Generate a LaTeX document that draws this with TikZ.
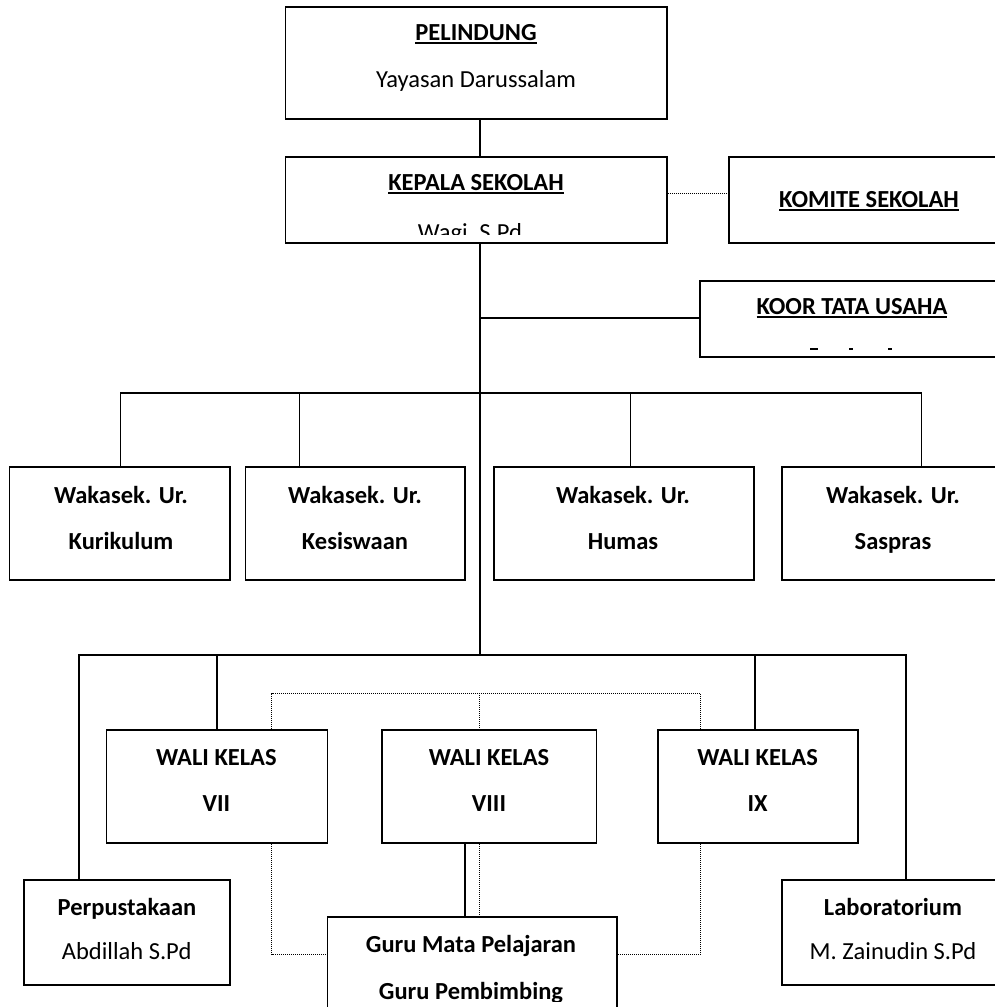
\documentclass[tikz,border=0pt]{standalone}
\usepackage{fontspec}
\setmainfont{Carlito}
\newcommand\fs{\fontsize{24.5}{29}\selectfont}
\newcommand\myul[1]{\setbox0\hbox{#1}\rlap{\rule[-3.5pt]{\wd0}{1.8pt}}\box0}
\begin{document}
\begin{tikzpicture}[x=1pt,y=-1pt,
  bx/.style={draw, line width=1.6pt, inner sep=0pt},
  tx/.style={inner sep=0pt, anchor=base, font=\fs},
  tb/.style={inner sep=0pt, anchor=base, font=\fs\bfseries},
  ln/.style={line width=1.4pt},
  dl/.style={line width=1pt, dash pattern=on 1pt off 1pt},
  mk/.style={line width=1.5pt}]
\clip (0,0) rectangle (995,1007);
\fill[white] (0,0) rectangle (995,1007);
% boxes
\node[bx, minimum width=381.5pt, minimum height=112pt] (pel) at (476.25,63) {};
\node[bx, minimum width=381.5pt, minimum height=86pt] (kep) at (476.25,200) {};
\node[bx, minimum width=371pt, minimum height=86pt] (kom) at (914.5,200) {};
\node[bx, minimum width=400pt, minimum height=76pt] (koor) at (900,319) {};
\node[bx, minimum width=220.5pt, minimum height=113pt] (wk1) at (119.75,523.5) {};
\node[bx, minimum width=219.4pt, minimum height=113pt] (wk2) at (355.3,523.5) {};
\node[bx, minimum width=260.3pt, minimum height=113pt] (wk3) at (623.85,523.5) {};
\node[bx, minimum width=318pt, minimum height=113pt] (wk4) at (941,523.5) {};
\node[bx, minimum width=220.8pt, minimum height=113pt] (w7) at (217,786.5) {};
\node[bx, minimum width=214.4pt, minimum height=113pt] (w8) at (489.2,786.5) {};
\node[bx, minimum width=200pt, minimum height=113pt] (w9) at (758,786.5) {};
\node[bx, minimum width=206pt, minimum height=105pt] (perp) at (127,932.5) {};
\node[bx, minimum width=318pt, minimum height=105pt] (lab) at (941,932.5) {};
\node[bx, minimum width=289.4pt, minimum height=183pt] (guru) at (472.1,1008.5) {};
% helper coordinates
\coordinate (tr) at (480,0);
\coordinate (kd) at (0,193);
\coordinate (kl) at (0,318);
\coordinate (b1) at (0,393);
\coordinate (b2) at (0,655);
\coordinate (d1) at (120.6,0);
\coordinate (d2) at (299.5,0);
\coordinate (d3) at (630.7,0);
\coordinate (d4) at (921.3,0);
\coordinate (e1) at (79,0);
\coordinate (e2) at (217,0);
\coordinate (e3) at (755,0);
\coordinate (e4) at (906,0);
\coordinate (f1) at (271.6,0);
\coordinate (f2) at (479,0);
\coordinate (f3) at (700.5,0);
\coordinate (dt) at (0,693);
\coordinate (db) at (0,954);
\coordinate (gx) at (465,0);
% connectors
\draw[ln] (pel.south -| tr) -- (kep.north -| tr);
\draw[dl] (kep.east |- kd) -- (kom.west |- kd);
\draw[ln] (kep.south -| tr) -- (tr |- b2);
\draw[ln] (tr |- kl) -- (koor.west |- kl);
\draw[ln] (wk1.north -| d1) -- (d1 |- b1) -- (d4 |- b1) -- (wk4.north -| d4);
\draw[ln] (d2 |- b1) -- (wk2.north -| d2);
\draw[ln] (d3 |- b1) -- (wk3.north -| d3);
\draw[ln] (perp.north -| e1) -- (e1 |- b2) -- (e4 |- b2) -- (lab.north -| e4);
\draw[ln] (e2 |- b2) -- (w7.north -| e2);
\draw[ln] (e3 |- b2) -- (w9.north -| e3);
\draw[dl] (w7.north -| f1) -- (f1 |- dt) -- (f3 |- dt) -- (w9.north -| f3);
\draw[dl] (f2 |- dt) -- (w8.north -| f2);
\draw[dl] (w7.south -| f1) -- (f1 |- db) -- (guru.west |- db);
\draw[dl] (w9.south -| f3) -- (f3 |- db) -- (guru.east |- db);
\draw[ln] (w8.south -| gx) -- (guru.north -| gx);
\draw[dl] (w8.south -| f2) -- (guru.north -| f2);
% texts
\node[tb] (t1) at (476,40) {\myul{PELINDUNG}};
\node[tx] (t2) at (476,87) {Yayasan Darussalam};
\node[tb] (t3) at (476,190.5) {\myul{KEPALA SEKOLAH}};
\begin{scope}
\clip (286,157) rectangle (667,234);
\node[tx] (t4) at (470,240) {Wagi, S.Pd};
\end{scope}
\node[tb] (t5) at (869,207) {\myul{KOMITE SEKOLAH}};
\node[tb] (t6) at (852,314) {\myul{KOOR TATA USAHA}};
\draw[mk] (810,349) -- (818,349);
\draw[mk] (849,349) -- (852.5,349);
\draw[mk] (888,349) -- (891.5,349);
\node[tb] (a1) at (121,503) {Wakasek. Ur.};
\node[tb] (a2) at (121,549) {Kurikulum};
\node[tb] (b1t) at (355,503) {Wakasek. Ur.};
\node[tb] (b2t) at (355,549) {Kesiswaan};
\node[tb] (c1) at (623,503) {Wakasek. Ur.};
\node[tb] (c2) at (623,549) {Humas};
\node[tb] (h1) at (893,503) {Wakasek. Ur.};
\node[tb] (h2) at (893,549) {Saspras};
\node[tb] (v1) at (216.4,765) {WALI KELAS};
\node[tb] (v2) at (216.4,811) {VII};
\node[tb] (v3) at (489,765) {WALI KELAS};
\node[tb] (v4) at (489,811) {VIII};
\node[tb] (v5) at (757.6,765) {WALI KELAS};
\node[tb] (v6) at (757.6,811) {IX};
\node[tb] (p1) at (127,915) {Perpustakaan};
\node[tx] (p2) at (126.7,959) {Abdillah S.Pd};
\node[tb] (l1) at (893,915) {Laboratorium};
\node[tx] (l2) at (893,959) {M. Zainudin S.Pd};
\node[tb] (g1) at (471,952) {Guru Mata Pelajaran};
\begin{scope}
\clip (330,960) rectangle (615,1001);
\node[tb] (g2) at (471,999) {Guru Pembimbing};
\end{scope}
\end{tikzpicture}
\end{document}
